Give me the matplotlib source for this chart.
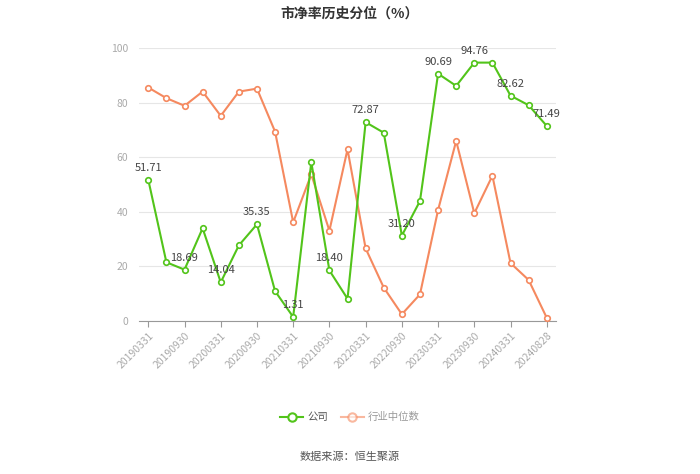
import numpy as np
import matplotlib
matplotlib.use('Agg')
import matplotlib.pyplot as plt
from matplotlib.lines import Line2D

plt.rcParams['font.family'] = ['Noto Sans CJK SC', 'DejaVu Sans']

# 日期（季度末 + 最新日期）
dates = ['20190331', '20190630', '20190930', '20191231',
         '20200331', '20200630', '20200930', '20201231',
         '20210331', '20210630', '20210930', '20211231',
         '20220331', '20220630', '20220930', '20221231',
         '20230331', '20230630', '20230930', '20231231',
         '20240331', '20240630', '20240828']
company = [51.71, 21.4, 18.69, 33.9, 14.04, 27.6, 35.35, 10.8, 1.31, 58.2, 18.40, 8.0,
           72.87, 69.0, 31.20, 43.9, 90.69, 86.2, 94.76, 94.76, 82.62, 79.1, 71.49]
industry = [85.6, 81.7, 78.9, 84.1, 75.2, 84.1, 85.2, 69.4, 36.1, 53.7, 33.0, 62.9,
            26.5, 12.1, 2.3, 9.6, 40.6, 66.0, 39.4, 53.2, 21.1, 14.9, 1.0]
label_idx = [0, 2, 4, 6, 8, 10, 12, 14, 16, 18, 20, 22]
tick_idx = [0, 2, 4, 6, 8, 10, 12, 14, 16, 18, 20, 22]

green = '#52c41a'
orange = '#f5895f'

fig = plt.figure(figsize=(7, 4.74), dpi=100)
ax = fig.add_axes([0.1989, 0.3238, 0.5951, 0.5742])
x = np.arange(len(dates))

ax.plot(x, industry, color=orange, lw=1.5, marker='o', ms=4,
        mfc='white', mec=orange, mew=1.2, zorder=3)
ax.plot(x, company, color=green, lw=1.5, marker='o', ms=4,
        mfc='white', mec=green, mew=1.2, zorder=4)

for i in label_idx:
    ax.annotate(f'{company[i]:.2f}', (x[i], company[i]), xytext=(0, 5),
                textcoords='offset points', ha='center', va='bottom',
                fontsize=8, color='#444444', zorder=5)

ax.set_xlim(-0.5, len(dates) - 0.5)
ax.set_ylim(0, 100)
ax.set_yticks([0, 20, 40, 60, 80, 100])
ax.grid(axis='y', color='#e6e6e6', lw=0.8)
ax.set_axisbelow(True)
ax.set_xticks(tick_idx)
ax.set_xticklabels([dates[i] for i in tick_idx], rotation=45, ha='right',
                   rotation_mode='anchor', fontsize=7.5, color='#aaaaaa')
ax.tick_params(axis='y', length=0, labelsize=7.5, labelcolor='#aaaaaa', pad=8)
ax.tick_params(axis='x', length=4, color='#999999', pad=3)
for s in ['top', 'right', 'left']:
    ax.spines[s].set_visible(False)
ax.spines['bottom'].set_color('#999999')

fig.text(0.5, 0.972, '市净率历史分位（%）', ha='center', va='center',
         fontsize=10, fontweight='bold', color='#333333')

handles = [Line2D([], [], color=green, lw=1.5, marker='o', ms=6, mfc='white', mec=green, mew=1.5),
           Line2D([], [], color=orange, lw=1.5, marker='o', ms=6, mfc='white', mec=orange, mew=1.5, alpha=0.6)]
leg = fig.legend(handles, ['公司', '行业中位数'], loc='center', bbox_to_anchor=(0.5, 0.12),
                 ncol=2, frameon=False, fontsize=7.5, handlelength=2.2,
                 columnspacing=1.2, handletextpad=0.4)
leg.get_texts()[0].set_color('#555555')
leg.get_texts()[1].set_color('#999999')

fig.text(0.5, 0.036, '数据来源：恒生聚源', ha='center', va='center',
         fontsize=8, color='#555555')

fig.savefig('out.png', dpi=100)
